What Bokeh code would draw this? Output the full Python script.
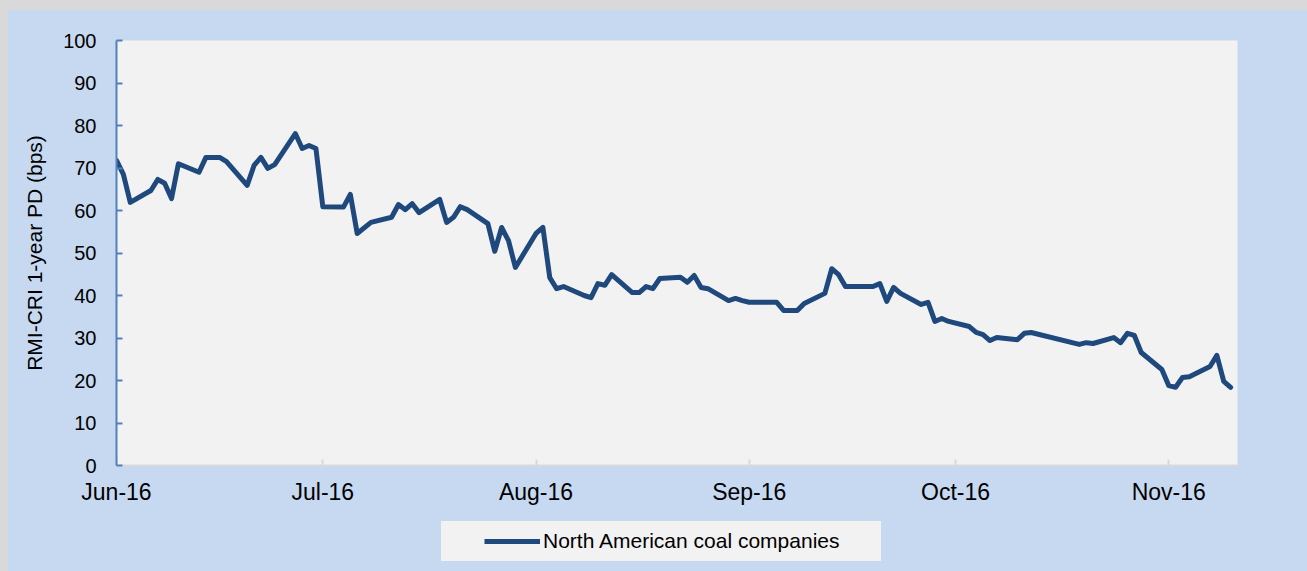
import pandas as pd
from bokeh.plotting import figure
from bokeh.layouts import column, row
from bokeh.models import Range1d, FixedTicker, DatetimeTickFormatter, Legend, LegendItem, ColumnDataSource, Spacer
from bokeh.embed import file_html
from bokeh.resources import INLINE

# ---- data ----
dates = [
    "2016-06-01", "2016-06-02", "2016-06-03", "2016-06-06", "2016-06-07", "2016-06-08",
    "2016-06-09", "2016-06-10", "2016-06-13", "2016-06-14", "2016-06-16", "2016-06-17",
    "2016-06-20", "2016-06-21", "2016-06-22", "2016-06-23", "2016-06-24", "2016-06-27",
    "2016-06-28", "2016-06-29", "2016-06-30", "2016-07-01", "2016-07-04", "2016-07-05",
    "2016-07-06", "2016-07-08", "2016-07-11", "2016-07-12", "2016-07-13", "2016-07-14",
    "2016-07-15", "2016-07-18", "2016-07-19", "2016-07-20", "2016-07-21", "2016-07-22",
    "2016-07-25", "2016-07-26", "2016-07-27", "2016-07-28", "2016-07-29", "2016-08-01",
    "2016-08-02", "2016-08-03", "2016-08-04", "2016-08-05", "2016-08-08", "2016-08-09",
    "2016-08-10", "2016-08-11", "2016-08-12", "2016-08-15", "2016-08-16", "2016-08-17",
    "2016-08-18", "2016-08-19", "2016-08-22", "2016-08-23", "2016-08-24", "2016-08-25",
    "2016-08-26", "2016-08-29", "2016-08-30", "2016-08-31", "2016-09-01", "2016-09-05",
    "2016-09-06", "2016-09-08", "2016-09-09", "2016-09-12", "2016-09-13", "2016-09-14",
    "2016-09-15", "2016-09-19", "2016-09-20", "2016-09-21", "2016-09-22", "2016-09-23",
    "2016-09-26", "2016-09-27", "2016-09-28", "2016-09-29", "2016-09-30", "2016-10-03",
    "2016-10-04", "2016-10-05", "2016-10-06", "2016-10-07", "2016-10-10", "2016-10-11",
    "2016-10-12", "2016-10-19", "2016-10-20", "2016-10-21", "2016-10-24", "2016-10-25",
    "2016-10-26", "2016-10-27", "2016-10-28", "2016-10-31", "2016-11-01", "2016-11-02",
    "2016-11-03", "2016-11-04", "2016-11-07", "2016-11-08", "2016-11-09", "2016-11-10",
]
values = [
    71.8, 68.5, 61.9, 64.7, 67.3, 66.4,
    62.8, 71.0, 69.0, 72.5, 72.5, 71.5,
    65.9, 70.6, 72.5, 69.9, 70.8, 78.1,
    74.6, 75.3, 74.6, 60.9, 60.8, 63.8,
    54.6, 57.2, 58.4, 61.4, 60.2, 61.6,
    59.5, 62.6, 57.2, 58.4, 60.9, 60.2,
    56.9, 50.4, 56.0, 52.9, 46.6, 54.6,
    56.0, 44.2, 41.6, 42.1, 40.0, 39.5,
    42.8, 42.4, 44.9, 40.7, 40.7, 42.1,
    41.6, 44.0, 44.3, 43.1, 44.7, 41.9,
    41.6, 38.8, 39.3, 38.8, 38.4, 38.4,
    36.5, 36.5, 38.1, 40.5, 46.3, 44.9,
    42.1, 42.1, 42.8, 38.6, 41.9, 40.5,
    37.9, 38.4, 33.9, 34.6, 33.9, 32.7,
    31.3, 30.8, 29.4, 30.1, 29.6, 31.1,
    31.3, 28.5, 28.9, 28.7, 30.1, 28.9,
    31.1, 30.6, 26.6, 22.6, 18.8, 18.4,
    20.7, 20.9, 23.3, 25.9, 19.8, 18.4,
]
y_ticks = [0, 10, 20, 30, 40, 50, 60, 70, 80, 90, 100]
month_ticks = ["2016-06-01", "2016-07-01", "2016-08-01", "2016-09-01", "2016-10-01", "2016-11-01"]
month_labels = ["Jun-16", "Jul-16", "Aug-16", "Sep-16", "Oct-16", "Nov-16"]
x_start, x_end = "2016-06-01", "2016-11-11"
series_name = "North American coal companies"
y_title = "RMI-CRI 1-year PD (bps)"

# ---- styling ----
FONT = "Liberation Sans"
BG_OUT = "#c6d9f0"
BG_PLOT = "#f2f2f2"
EDGE = "#d9d9d9"
LINE_COL = "#1f497d"

src = ColumnDataSource(dict(x=pd.to_datetime(dates), y=values))

p = figure(
    width=1299, height=511,
    x_axis_type="datetime",
    x_range=Range1d(pd.Timestamp(x_start), pd.Timestamp(x_end)),
    y_range=Range1d(0, 100),
    output_backend="svg", toolbar_location=None,
    min_border_left=108, min_border_right=70, min_border_top=30, min_border_bottom=56,
    background_fill_color=BG_PLOT, border_fill_color=BG_OUT,
    outline_line_color=None,
)
p.xgrid.visible = False
p.ygrid.visible = False

p.line("x", "y", source=src, line_color=LINE_COL, line_width=5, line_join="round", line_cap="round")

# y axis
ya = p.yaxis[0]
ya.ticker = FixedTicker(ticks=y_ticks)
ya.axis_line_color = "#4f81bd"
ya.axis_line_width = 2
ya.major_tick_line_color = "#4f81bd"
ya.major_tick_line_width = 2
ya.major_tick_in = 6
ya.major_tick_out = 0
ya.minor_tick_line_color = None
ya.major_label_text_font = FONT
ya.major_label_text_font_size = "20px"
ya.major_label_text_color = "black"
ya.major_label_standoff = 20
ya.axis_label = y_title
ya.axis_label_text_font = FONT
ya.axis_label_text_font_size = "21px"
ya.axis_label_text_font_style = "normal"
ya.axis_label_text_color = "black"
ya.axis_label_standoff = 14

# x axis
xa = p.xaxis[0]
tick_ms = [pd.Timestamp(d).value // 10**6 for d in month_ticks]
xa.ticker = FixedTicker(ticks=tick_ms)
xa.formatter = DatetimeTickFormatter(days="%b-%y", months="%b-%y", years="%b-%y")
xa.major_label_overrides = {t: lab for t, lab in zip(tick_ms, month_labels)}
xa.axis_line_color = EDGE
xa.axis_line_width = 2
xa.major_tick_line_color = EDGE
xa.major_tick_line_width = 2
xa.major_tick_in = 6
xa.major_tick_out = 0
xa.minor_tick_line_color = None
xa.major_label_text_font = FONT
xa.major_label_text_font_size = "23px"
xa.major_label_text_color = "black"
xa.major_label_standoff = 13

# ---- legend strip below the chart ----
p2 = figure(
    width=1299, height=50,
    x_range=Range1d(0, 1), y_range=Range1d(0, 1),
    x_axis_location=None, y_axis_location=None,
    output_backend="svg", toolbar_location=None,
    min_border_left=108, min_border_right=70, min_border_top=0, min_border_bottom=0,
    background_fill_color=BG_OUT, border_fill_color=BG_OUT,
    outline_line_color=None,
)
p2.xgrid.visible = False
p2.ygrid.visible = False
# renderer used only for the legend sample (no visible data); dash pattern offsets the sample
leg_src = ColumnDataSource(dict(x=[float("nan")], y=[float("nan")]))
leg_r = p2.line("x", "y", source=leg_src, line_color=LINE_COL, line_width=5,
                line_dash="0 43 56 1000", line_cap="butt")

legend = Legend(
    items=[LegendItem(label=series_name, renderers=[leg_r])],
    location=(325, 10),
    padding=0, margin=0, spacing=0,
    glyph_width=99, glyph_height=40, label_standoff=3,
    label_width=338, label_height=40,
    label_text_font=FONT, label_text_font_size="21px", label_text_color="black",
    background_fill_color=BG_PLOT, background_fill_alpha=1.0,
    border_line_color=None,
)
p2.add_layout(legend, "center")

chart = column(p, p2, spacing=0, styles={"background-color": BG_OUT})
top_strip = Spacer(width=1307, height=10, styles={"background-color": EDGE})
left_strip = Spacer(width=8, height=561, styles={"background-color": EDGE})
layout = column(top_strip, row(left_strip, chart, spacing=0), spacing=0,
                styles={"background-color": BG_OUT})
open("out.html", "w").write(file_html(layout, INLINE))
